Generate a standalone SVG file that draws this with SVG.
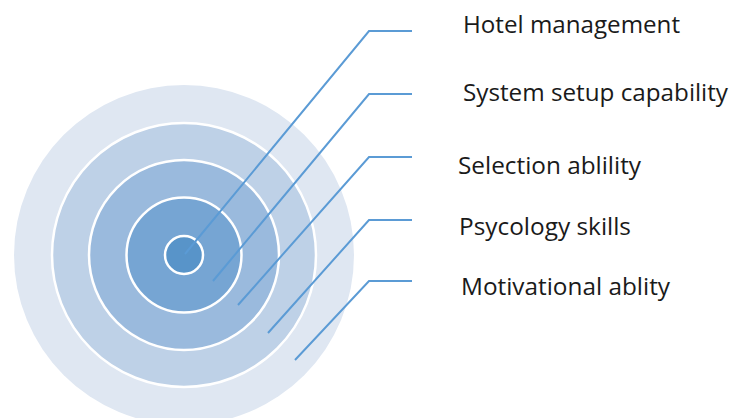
<svg xmlns="http://www.w3.org/2000/svg" width="733" height="418" viewBox="0 0 733 418">
  <style>
    .ring { stroke: #ffffff; stroke-width: 2.5; }
    .lead { fill: none; stroke: #5B9BD5; stroke-width: 2; stroke-linejoin: miter; }
    .label { font-family: "Open Sans", "Noto Sans", sans-serif; font-size: 24px; fill: #1a1a1a; }
  </style>
  <rect width="733" height="418" fill="#ffffff"/>

  <!-- concentric target -->
  <g id="target">
    <circle id="ring-5" cx="184" cy="255" r="170" fill="#DFE7F2"/>
    <circle id="ring-4" class="ring" cx="184" cy="255" r="132" fill="#BED1E7"/>
    <circle id="ring-3" class="ring" cx="184" cy="255" r="95" fill="#9ABADD"/>
    <circle id="ring-2" class="ring" cx="184" cy="255" r="57.5" fill="#76A5D3"/>
    <circle id="ring-1" class="ring" cx="184" cy="255" r="19" fill="#5894C9"/>
  </g>

  <!-- leader lines -->
  <g id="connectors">
    <polyline class="lead" points="185,254 369,31 412,31"/>
    <polyline class="lead" points="213,281 369,94 412,94"/>
    <polyline class="lead" points="238,305 369,157 412,157"/>
    <polyline class="lead" points="268,333 369,220 412,220"/>
    <polyline class="lead" points="295,360 369,281 412,281"/>
  </g>

  <!-- labels -->
  <g id="label-hotel"><text class="label" x="463" y="33" textLength="217" lengthAdjust="spacingAndGlyphs">Hotel management</text></g>
  <g id="label-system"><text class="label" x="463" y="101" textLength="265" lengthAdjust="spacingAndGlyphs">System setup capability</text></g>
  <g id="label-selection"><text class="label" x="458" y="174" textLength="183" lengthAdjust="spacingAndGlyphs">Selection ablility</text></g>
  <g id="label-psycology"><text class="label" x="459" y="235" textLength="172" lengthAdjust="spacingAndGlyphs">Psycology skills</text></g>
  <g id="label-motivational"><text class="label" x="461" y="295" textLength="209" lengthAdjust="spacingAndGlyphs">Motivational ablity</text></g>
</svg>
